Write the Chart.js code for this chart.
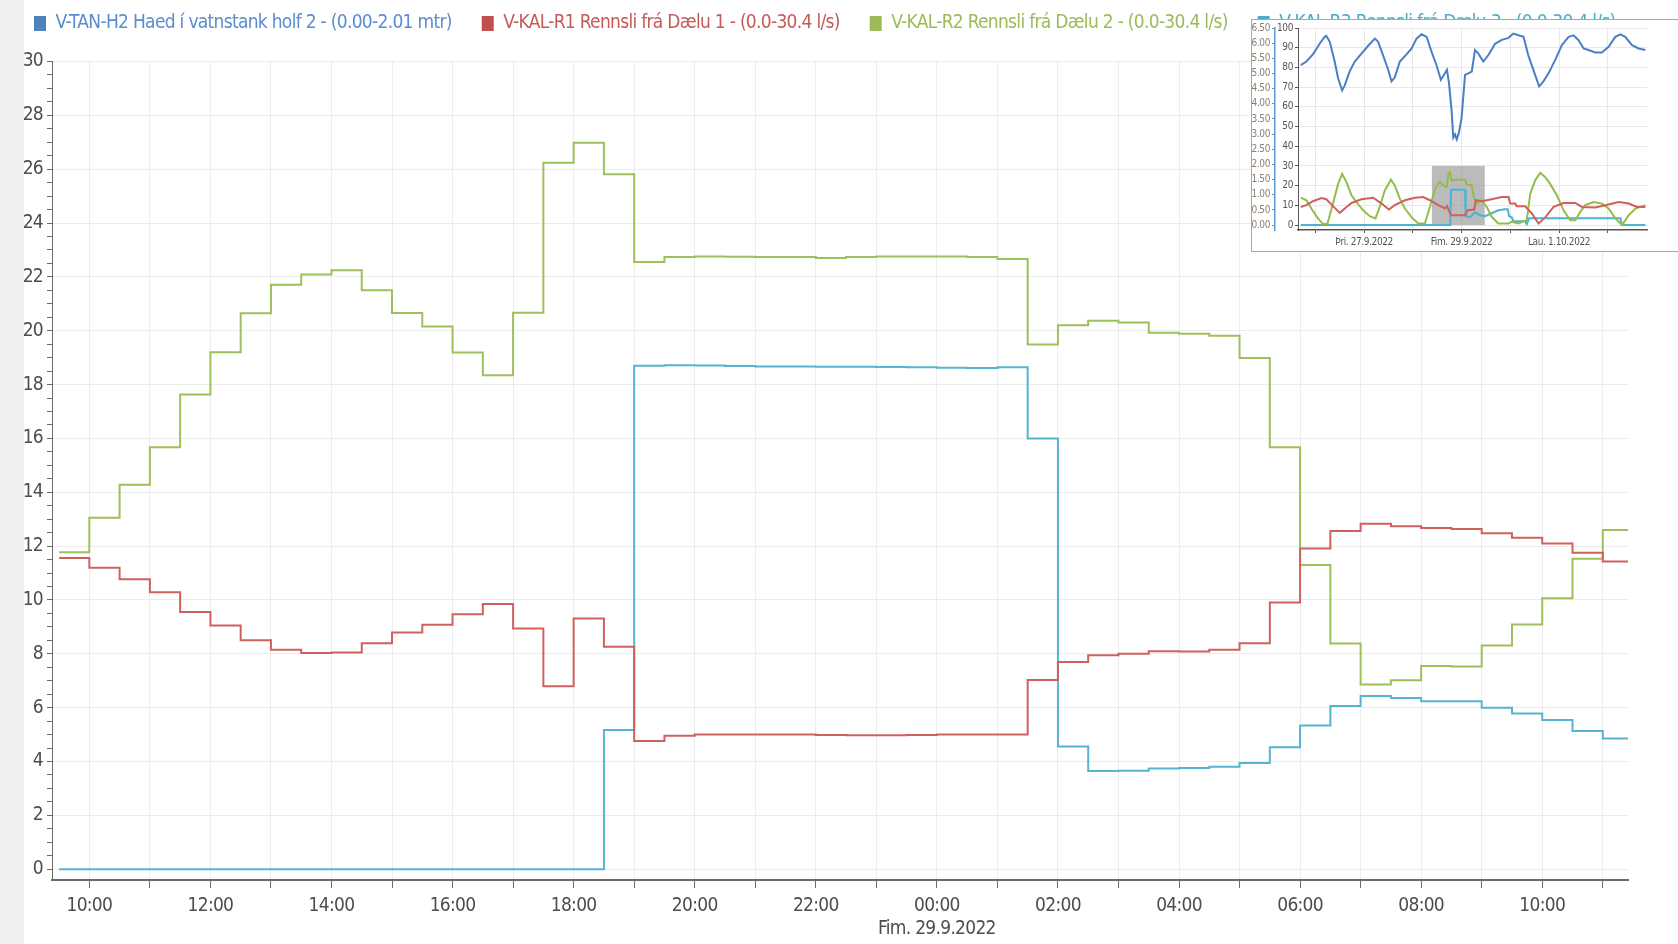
<!DOCTYPE html>
<html>
<head>
<meta charset="utf-8">
<title>Rennsli dælur</title>
<script src="https://cdn.jsdelivr.net/npm/chart.js@4.4.0/dist/chart.umd.min.js"></script>
<style>
    html, body { margin: 0; padding: 0; background: #fff; }
    body { width: 1678px; height: 944px; position: relative; overflow: hidden; }
    #sideStrip { position: absolute; left: 0; top: 0; width: 24px; height: 944px; background: #efefef; }
    #mainChart { position: absolute; left: 0; top: 0; }
    #overview { position: absolute; left: 1251px; top: 19px; width: 427px; height: 231px; border: 1px solid #a8a8a8; background: #fff; }
    #overviewChart { display: block; }
</style>
</head>
<body>
<div id="sideStrip"></div>
<canvas id="mainChart" width="1678" height="944"></canvas>
<div id="overview"><canvas id="overviewChart" width="427" height="231"></canvas></div>
<script>
// ---- main chart: half hour values, hours counted from 28.9.2022 00:00 ----
let halfHours = [9.5, 10, 10.5, 11, 11.5, 12, 12.5, 13, 13.5, 14, 14.5, 15, 15.5, 16, 16.5, 17, 17.5, 18, 18.5, 19,
    19.5, 20, 20.5, 21, 21.5, 22, 22.5, 23, 23.5, 24, 24.5, 25, 25.5,
    26, 26.5, 27, 27.5, 28, 28.5, 29, 29.5, 30, 30.5, 31, 31.5, 32, 32.5, 33, 33.5, 34, 34.5, 35];
let xStart = 9 + 23 / 60;
let xEnd = 35 + 25 / 60;

let seriesLabels = [
    'V-TAN-H2 Haed í vatnstank holf 2 - (0.00-2.01 mtr)',
    'V-KAL-R1 Rennsli frá Dælu 1 - (0.0-30.4 l/s)',
    'V-KAL-R2 Rennsli frá Dælu 2 - (0.0-30.4 l/s)',
    'V-KAL-R3 Rennsli frá Dælu 3 - (0.0-30.4 l/s)'
];

let tankLevel = []; // not shown in this range
let flowPump1 = [11.56, 11.2, 10.77, 10.29, 9.55, 9.05, 8.5, 8.15, 8.03, 8.05, 8.39, 8.79, 9.08, 9.47, 9.85, 8.94, 6.8, 9.31, 8.26, 4.76,
    4.96, 5.0, 5.0, 5.0, 5.0, 4.99, 4.98, 4.98, 4.99, 5.0, 5.0, 5.0, 7.03,
    7.7, 7.95, 8.0, 8.1, 8.09, 8.15, 8.39, 9.91, 11.91, 12.56, 12.83, 12.74, 12.67, 12.64, 12.48, 12.31, 12.1, 11.75, 11.43];
let flowPump2 = [11.77, 13.05, 14.28, 15.67, 17.63, 19.2, 20.65, 21.71, 22.09, 22.25, 21.5, 20.66, 20.16, 19.19, 18.35, 20.67, 26.24, 26.98, 25.81, 22.55,
    22.74, 22.76, 22.75, 22.74, 22.74, 22.7, 22.74, 22.76, 22.76, 22.76, 22.74, 22.66, 19.49,
    20.2, 20.37, 20.31, 19.93, 19.89, 19.81, 18.99, 15.67, 11.3, 8.38, 6.86, 7.02, 7.55, 7.53, 8.31, 9.09, 10.06, 11.53, 12.6];
let flowPump3 = [0, 0, 0, 0, 0, 0, 0, 0, 0, 0, 0, 0, 0, 0, 0, 0, 0, 0, 5.17, 18.7,
    18.72, 18.71, 18.69, 18.67, 18.67, 18.66, 18.66, 18.65, 18.64, 18.63, 18.62, 18.64, 16.0,
    4.56, 3.65, 3.66, 3.74, 3.76, 3.81, 3.95, 4.53, 5.34, 6.06, 6.43, 6.36, 6.24, 6.24, 6.0, 5.78, 5.54, 5.13, 4.86];

let dayLabel = 'Fim. 29.9.2022';

// ---- overview chart: hours counted from 26.9.2022 00:00 ----
let ovStart = -8.55;
let ovEnd = 163.3;
let ovDayLabels = { 24: 'Þri. 27.9.2022', 72: 'Fim. 29.9.2022', 120: 'Lau. 1.10.2022' };

let ovLevelHours = [-7.2, -4.4, -1.2, 2.1, 4.6, 5.4, 7.1, 9.5, 11.2, 13.2, 14.5, 16.9, 19.4, 22.7, 26.0, 29.3, 30.9, 33.4, 35.9, 37.5,
    39.1, 41.6, 44.9, 47.4, 49.8, 52.3, 54.8, 57.2, 59.7, 61.8, 63.8, 64.8, 65.8, 67.1, 67.9, 68.8, 69.6, 70.7, 72.0, 73.7,
    75.3, 77.0, 78.6, 80.3, 82.7, 85.2, 88.5, 91.8, 95.1, 97.5, 100, 102.5, 104.9, 108.2, 110.2, 112.3, 114.8, 118.1, 121.4, 124.7,
    127.1, 129.6, 132.1, 134.5, 137.8, 141.1, 144.4, 147.7, 150.2, 152.6, 155.9, 159.2, 162.5];
let ovLevel = [81.2, 83, 86.6, 92, 95.5, 96, 93, 83, 74.5, 68.3, 71, 78, 83, 87, 91, 94.6, 93, 86, 78.7, 72.9,
    75, 83, 86.6, 89.6, 94.6, 96.8, 95.5, 88, 81, 73.7, 77, 78.7, 72, 57.8, 44.4, 46, 43.5, 46.9, 54.4, 76.2,
    77, 77.9, 88.8, 87, 83, 86.3, 92, 94, 95, 97.2, 96.3, 95.5, 86, 76.2, 70.4, 72.9, 77, 83.8, 91.3, 95.5,
    96.3, 93.8, 89.6, 88.8, 87.6, 87.6, 90.5, 95.5, 96.8, 95.5, 91.3, 89.6, 88.8];

let ovPump1Hours = [-7.2, -4.4, -1.2, 3.0, 5.4, 8.2, 12.0, 14.5, 17.8, 22.7, 28.5, 32.6, 36.2, 39.1, 44.1, 49.0, 53.1, 56.4, 60.5, 63.8,
    64.8, 65.8, 66.8, 73.7, 75.0, 78.3, 78.9, 81.9, 86.8, 91.8, 95.1, 95.9, 98.4, 99.2, 103.3, 106.6, 109.9, 113.2, 117.3, 122.2,
    128.0, 131.3, 137.8, 142.8, 149.3, 154.3, 158.4, 162.5];
let ovPump1 = [9.2, 10.1, 12.1, 13.7, 13.1, 10.1, 6.2, 8.4, 11.2, 13.1, 13.9, 10.9, 7.9, 10.1, 12.6, 13.9, 14.2, 12.6, 10.1, 8.4,
    9.7, 7.2, 5.0, 5.0, 7.5, 7.9, 12.6, 12.1, 13.1, 14.2, 14.2, 10.9, 10.9, 9.5, 9.5, 5.9, 0.8, 3.9, 9.2, 11.2,
    11.2, 9.2, 8.9, 10.1, 11.7, 10.9, 9.2, 9.2];

let ovPump2Hours = [-7.2, -4.4, -2.0, 1.3, 3.8, 5.9, 8.2, 11.2, 13.2, 15.3, 17.8, 20.2, 23.5, 26.8, 29.6, 31.7, 34.2, 37.2, 39.1, 41.6,
    44.1, 47.4, 50.7, 53.9, 56.4, 58.9, 61.3, 63.0, 64.6, 65.5, 66.3, 67.1, 67.9, 73.7, 74.5, 77.0, 77.8, 79.4, 81.9, 84.4,
    86.8, 90.1, 95.1, 96.7, 100.0, 104.1, 105.8, 108.2, 110.7, 113.2, 115.6, 118.9, 122.2, 125.5, 128.0, 130.4, 132.9, 137.0, 141.1, 144.4,
    147.7, 151.0, 154.3, 157.6, 162.5];
let ovPump2 = [13.9, 12.6, 8.4, 3.4, 0.5, 0.5, 9.2, 20.9, 26.0, 21.8, 15.1, 11.7, 7.5, 4.5, 3.4, 9.2, 17.6, 23.0, 20.1, 13.4,
    8.4, 3.9, 0.8, 0.8, 9.2, 18.4, 22.1, 20.1, 19.3, 26.0, 26.8, 22.6, 23.0, 23.0, 20.6, 20.1, 15.1, 10.9, 12.6, 9.2,
    4.2, 0.8, 0.8, 1.7, 0.8, 2.5, 15.9, 22.6, 26.5, 24.3, 20.9, 15.1, 7.5, 2.5, 2.5, 6.7, 10.1, 11.7, 10.9, 8.4,
    3.4, 0, 5.0, 8.4, 10.1];

let ovPump3Hours = [-7.2, 66.4, 66.8, 73.7, 74.0, 76.2, 78.6, 81.1, 83.6, 86.8, 90.1, 93.4, 94.7, 95.4, 96.7, 97.5, 103.3, 104.1, 105.3, 150.2,
    151.0, 162.5];
let ovPump3 = [0, 0, 17.9, 17.9, 4.5, 4.0, 6.5, 5.0, 4.5, 6.0, 7.5, 8.0, 8.0, 4.5, 4.0, 2.0, 2.0, 0.5, 3.5, 3.5,
    0, 0];

let boxColors = ['#4f81bd', '#c0504d', '#9bbb59', '#4bacc6'];
let textColors = ['#5b8bd0', '#c55a56', '#9bbb59', '#4bacc6'];
let narrowFont = "'Liberation Sans Narrow', 'DejaVu Sans Condensed', 'Arial Narrow', sans-serif";

function toPoints(hours, values, lastHour) {
    let pts = hours.map((h, i) => ({ x: h, y: values[i] }));
    if (lastHour && values.length) {
        pts.push({ x: lastHour, y: values[values.length - 1] });
    }
    return pts;
}

function hourLabel(v) {
    if (!Number.isInteger(v) || v % 2 !== 0) return '';
    let txt = String(v % 24).padStart(2, '0') + ':00';
    if (v === 24) return [txt, dayLabel];
    return txt;
}

// the original uses a very narrow font, squeeze the letters a bit
let tightText = {
    id: 'tightText',
    beforeLayout(chart, args, opts) { chart.ctx.letterSpacing = opts.spacing; },
    beforeDraw(chart, args, opts) { chart.ctx.letterSpacing = opts.spacing; }
};

Chart.defaults.font.family = narrowFont;

let mainChartEl = document.getElementById('mainChart').getContext('2d');
let mainChart = new Chart(mainChartEl, {
    type: 'line',
    data: {
        datasets: [
            {
                label: seriesLabels[0],
                data: toPoints([], tankLevel),
                borderColor: '#4a7fc6',
                backgroundColor: boxColors[0]
            },
            {
                label: seriesLabels[1],
                data: toPoints(halfHours, flowPump1, xEnd),
                borderColor: '#d0605c',
                backgroundColor: boxColors[1]
            },
            {
                label: seriesLabels[2],
                data: toPoints(halfHours, flowPump2, xEnd),
                borderColor: '#9dbf5c',
                backgroundColor: boxColors[2]
            },
            {
                label: seriesLabels[3],
                data: toPoints(halfHours, flowPump3, xEnd),
                borderColor: '#56b4d0',
                backgroundColor: boxColors[3]
            }
        ]
    },
    plugins: [tightText],
    options: {
        responsive: false,
        animation: false,
        layout: { padding: { top: -16, left: 4, right: 0, bottom: 0 } },
        elements: {
            point: { radius: 0 },
            line: { borderWidth: 2, stepped: 'before' }
        },
        plugins: {
            tightText: { spacing: '-0.7px' },
            tooltip: { enabled: false },
            legend: {
                position: 'top',
                align: 'start',
                labels: {
                    boxWidth: 12,
                    boxHeight: 15,
                    padding: 30,
                    font: { size: 19 },
                    generateLabels: function (chart) {
                        let items = Chart.defaults.plugins.legend.labels.generateLabels(chart);
                        items.forEach((item, i) => {
                            item.fillStyle = boxColors[i];
                            item.strokeStyle = boxColors[i];
                            item.lineWidth = 0;
                            item.fontColor = textColors[i];
                        });
                        return items;
                    }
                }
            },
            // empty subtitle below the legend, only used as a spacer
            subtitle: {
                display: true,
                text: '',
                weight: 500,
                font: { size: 1 },
                padding: { top: 0, bottom: 17.3 }
            }
        },
        scales: {
            x: {
                type: 'linear',
                min: xStart,
                max: xEnd,
                afterFit: function (scale) { scale.height = 64; },
                grid: { color: '#ececec', tickColor: '#6a6a6a', tickLength: 8 },
                border: { color: '#6a6a6a', width: 2 },
                ticks: {
                    stepSize: 1,
                    autoSkip: false,
                    includeBounds: false,
                    maxRotation: 0,
                    padding: 7,
                    color: '#4d4d4d',
                    font: { size: 19 },
                    callback: hourLabel
                }
            },
            y: {
                min: -0.4,
                max: 30,
                afterFit: function (scale) { scale.width = 48; },
                grid: {
                    color: (ctx) => (ctx.tick && ctx.tick.value % 2 === 0) ? '#ececec' : 'rgba(0,0,0,0)',
                    tickColor: '#6a6a6a',
                    tickLength: 5
                },
                border: { color: '#6a6a6a', width: 1 },
                ticks: {
                    stepSize: 0.5,
                    autoSkip: false,
                    includeBounds: false,
                    padding: 4,
                    color: '#4d4d4d',
                    font: { size: 19 },
                    callback: (v) => (v % 2 === 0 ? v : '')
                }
            },
            // empty axis on the right, only keeps room free
            yRight: {
                type: 'linear',
                position: 'right',
                afterFit: function (scale) { scale.width = 50; },
                grid: { display: false },
                border: { display: false },
                ticks: { display: false }
            }
        }
    }
});

// grey block in the overview = range shown in the main chart
let rangeBox = {
    id: 'rangeBox',
    beforeDatasetsDraw(chart) {
        let { ctx, scales } = chart;
        let x0 = scales.x.getPixelForValue(xStart + 48);
        let x1 = scales.x.getPixelForValue(xEnd + 48);
        let y0 = scales.y.getPixelForValue(0);
        let y1 = scales.y.getPixelForValue(30);
        ctx.save();
        ctx.fillStyle = 'rgba(150,150,150,0.65)';
        ctx.fillRect(x0, y1, x1 - x0, y0 - y1);
        ctx.restore();
    }
};

let overviewEl = document.getElementById('overviewChart').getContext('2d');
let overviewChart = new Chart(overviewEl, {
    type: 'line',
    data: {
        datasets: [
            { label: seriesLabels[0], data: toPoints(ovLevelHours, ovLevel), borderColor: '#4a7fc6' },
            { label: seriesLabels[1], data: toPoints(ovPump1Hours, ovPump1), borderColor: '#d0605c' },
            { label: seriesLabels[2], data: toPoints(ovPump2Hours, ovPump2), borderColor: '#93bd4a' },
            { label: seriesLabels[3], data: toPoints(ovPump3Hours, ovPump3), borderColor: '#4bb3d6' }
        ]
    },
    plugins: [rangeBox, tightText],
    options: {
        responsive: false,
        animation: false,
        layout: { padding: { top: 6, right: 32, left: 0, bottom: 0 } },
        elements: {
            point: { radius: 0 },
            line: { borderWidth: 2, tension: 0 }
        },
        plugins: {
            tightText: { spacing: '-0.4px' },
            legend: { display: false },
            tooltip: { enabled: false }
        },
        scales: {
            x: {
                type: 'linear',
                min: ovStart,
                max: ovEnd,
                afterFit: function (scale) { scale.height = 21; },
                grid: { color: '#e8e8e8', tickColor: '#555', tickLength: 3 },
                border: { color: '#555', width: 1.5 },
                ticks: {
                    stepSize: 24,
                    autoSkip: false,
                    includeBounds: false,
                    maxRotation: 0,
                    padding: 3,
                    color: '#555',
                    font: { size: 10 },
                    callback: (v) => ovDayLabels[v] || ''
                }
            },
            y: {
                position: 'left',
                weight: 0,
                min: -2.5,
                max: 100,
                afterFit: function (scale) { scale.width = 23; },
                grid: { color: '#e8e8e8', tickColor: '#555', tickLength: 3 },
                border: { color: '#555', width: 1 },
                ticks: { stepSize: 10, autoSkip: false, includeBounds: false, padding: 2, color: '#555', font: { size: 10 } }
            },
            yMtr: {
                type: 'linear',
                position: 'left',
                weight: 1,
                min: -0.1625,
                max: 6.5,
                afterFit: function (scale) { scale.width = 23; },
                grid: { drawOnChartArea: false, tickColor: '#5b9bd5', tickLength: 3 },
                border: { color: '#5b9bd5', width: 1.5 },
                ticks: {
                    stepSize: 0.5,
                    autoSkip: false,
                    includeBounds: false,
                    padding: 2,
                    color: '#8a7f73',
                    font: { size: 10 },
                    callback: (v) => v.toFixed(2)
                }
            }
        }
    }
});
</script>
</body>
</html>
